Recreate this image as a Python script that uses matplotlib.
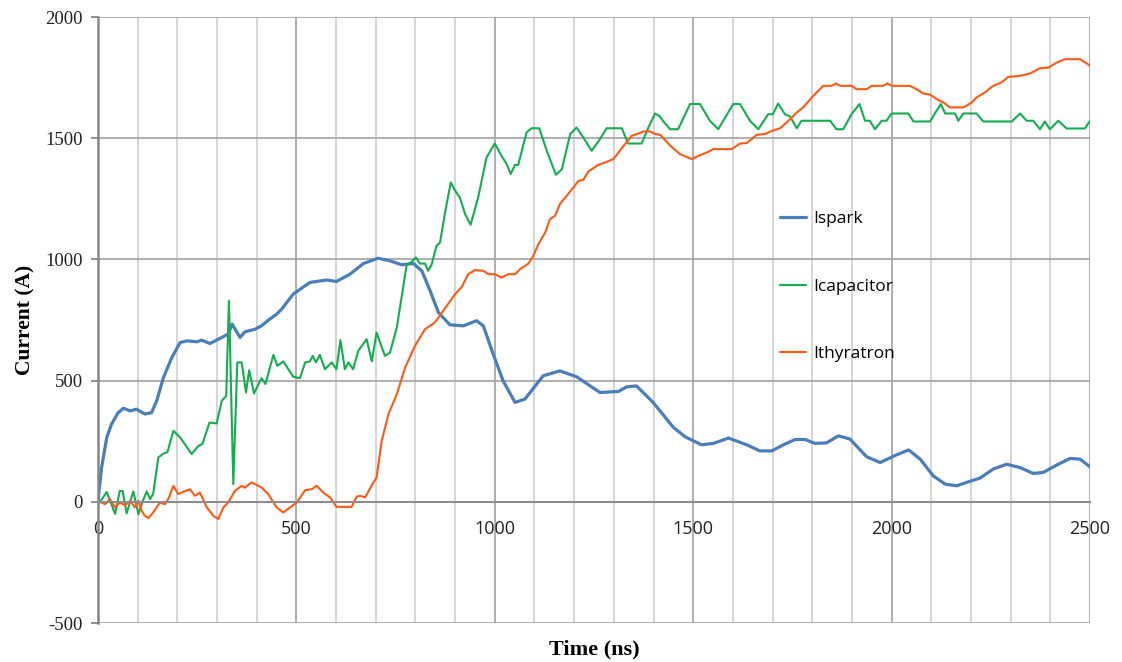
"""Spark gap discharge currents: spark, capacitor and thyratron branches."""

import matplotlib
matplotlib.use("Agg")
import matplotlib.pyplot as plt
from matplotlib.ticker import MultipleLocator

# Ispark trace (time in ns, current in A)
ispark_t = [0, 9, 22, 34, 51, 64, 81, 97, 118, 135,
            148, 165, 186, 207, 224, 250, 261, 282, 312, 328,
            338, 358, 370, 396, 412, 429, 450, 463, 492, 534,
            576, 601, 635, 669, 706, 736, 765, 795, 816, 837,
            858, 887, 921, 954, 971, 996, 1021, 1051, 1076, 1122,
            1164, 1206, 1265, 1311, 1332, 1357, 1399, 1450, 1480, 1500,
            1521, 1551, 1589, 1635, 1668, 1698, 1727, 1757, 1782, 1807,
            1836, 1866, 1895, 1937, 1971, 2013, 2043, 2072, 2105, 2135,
            2164, 2189, 2223, 2256, 2290, 2324, 2357, 2382, 2420, 2450,
            2475, 2500]
ispark = [4, 141, 265, 320, 368, 386, 375, 382, 362, 368,
          417, 513, 595, 657, 664, 660, 667, 653, 678, 692,
          733, 678, 701, 712, 726, 749, 774, 795, 857, 905,
          915, 909, 939, 983, 1005, 994, 978, 983, 953, 870,
          781, 730, 726, 747, 726, 609, 499, 410, 424, 520,
          540, 516, 451, 455, 474, 478, 410, 307, 268, 252,
          235, 241, 263, 235, 210, 210, 235, 257, 257, 241,
          243, 272, 259, 186, 162, 194, 214, 176, 107, 73,
          66, 80, 98, 135, 155, 141, 117, 121, 155, 179,
          176, 144]

# Icapacitor trace
icap_t = [0, 22, 43, 55, 62, 72, 89, 102, 112, 123,
          131, 139, 152, 165, 175, 190, 207, 220, 236, 253,
          263, 281, 299, 312, 323, 330, 341, 351, 362, 373,
          381, 393, 412, 422, 442, 452, 467, 492, 509, 522,
          534, 541, 549, 559, 572, 589, 601, 611, 622, 631,
          643, 656, 677, 690, 702, 723, 736, 753, 769, 778,
          789, 801, 811, 824, 832, 841, 853, 862, 874, 889,
          900, 912, 925, 939, 958, 979, 1000, 1017, 1030, 1040,
          1051, 1059, 1080, 1093, 1112, 1131, 1154, 1169, 1190, 1206,
          1223, 1244, 1265, 1282, 1320, 1336, 1370, 1387, 1404, 1416,
          1425, 1442, 1462, 1492, 1517, 1542, 1563, 1601, 1618, 1643,
          1664, 1689, 1701, 1714, 1731, 1744, 1761, 1773, 1845, 1861,
          1878, 1899, 1919, 1933, 1945, 1958, 1975, 1987, 2000, 2042,
          2055, 2097, 2109, 2124, 2135, 2160, 2168, 2181, 2214, 2231,
          2303, 2324, 2340, 2357, 2374, 2386, 2399, 2420, 2441, 2487,
          2500]
icap = [-12, 40, -50, 45, 45, -48, 43, -51, 0, 43,
        11, 32, 183, 199, 205, 293, 265, 235, 197, 231,
        238, 327, 323, 417, 437, 829, 73, 575, 575, 451,
        543, 447, 510, 486, 606, 561, 579, 516, 510, 575,
        579, 602, 575, 606, 547, 575, 547, 667, 547, 575,
        547, 623, 671, 579, 698, 602, 616, 719, 884, 978,
        988, 1008, 983, 983, 953, 980, 1056, 1070, 1187, 1318,
        1283, 1255, 1187, 1143, 1255, 1420, 1478, 1427, 1393, 1352,
        1390, 1390, 1524, 1541, 1541, 1448, 1349, 1372, 1517, 1544,
        1503, 1448, 1496, 1541, 1541, 1478, 1478, 1544, 1602, 1590,
        1569, 1537, 1537, 1641, 1641, 1572, 1537, 1641, 1641, 1572,
        1537, 1599, 1599, 1643, 1599, 1590, 1541, 1572, 1572, 1537,
        1537, 1599, 1641, 1572, 1572, 1537, 1572, 1572, 1602, 1602,
        1569, 1569, 1602, 1641, 1602, 1602, 1572, 1602, 1602, 1569,
        1569, 1602, 1572, 1572, 1537, 1569, 1537, 1572, 1540, 1540,
        1572]

# Ithyratron trace
ithy_t = [0, 18, 30, 43, 55, 68, 81, 93, 102, 110,
          118, 127, 139, 156, 169, 179, 190, 202, 219, 232,
          244, 257, 274, 291, 303, 316, 328, 345, 362, 370,
          387, 412, 429, 450, 467, 484, 501, 522, 539, 551,
          568, 585, 601, 639, 652, 660, 673, 694, 702, 715,
          732, 753, 774, 799, 824, 849, 870, 900, 917, 933,
          950, 971, 984, 1000, 1017, 1034, 1051, 1064, 1085, 1097,
          1110, 1127, 1139, 1152, 1164, 1181, 1211, 1223, 1236, 1261,
          1278, 1299, 1320, 1345, 1362, 1375, 1391, 1404, 1417, 1442,
          1467, 1496, 1513, 1534, 1551, 1597, 1618, 1635, 1660, 1681,
          1698, 1719, 1740, 1761, 1777, 1799, 1811, 1828, 1849, 1860,
          1870, 1899, 1912, 1937, 1950, 1979, 1989, 2000, 2046, 2063,
          2080, 2097, 2114, 2131, 2147, 2181, 2202, 2214, 2235, 2256,
          2277, 2294, 2324, 2349, 2374, 2395, 2416, 2437, 2475, 2500]
ithy = [4, -10, 11, -23, -3, -15, 4, -23, 4, -37,
        -58, -67, -44, -3, -10, 18, 66, 32, 44, 52,
        25, 38, -23, -58, -71, -23, -3, 45, 66, 58,
        80, 59, 32, -23, -44, -23, -3, 48, 52, 66,
        38, 18, -21, -21, 21, 25, 18, 80, 100, 252,
        362, 444, 554, 644, 712, 740, 788, 857, 887, 939,
        956, 953, 939, 939, 925, 939, 939, 960, 983, 1015,
        1063, 1111, 1166, 1180, 1228, 1262, 1324, 1328, 1363, 1390,
        1400, 1414, 1459, 1510, 1519, 1528, 1528, 1517, 1514, 1469,
        1434, 1414, 1427, 1441, 1455, 1455, 1478, 1480, 1514, 1517,
        1530, 1541, 1572, 1606, 1627, 1668, 1689, 1716, 1716, 1726,
        1716, 1716, 1702, 1702, 1716, 1716, 1726, 1716, 1716, 1702,
        1684, 1680, 1661, 1647, 1627, 1627, 1647, 1668, 1689, 1716,
        1730, 1753, 1757, 1767, 1789, 1791, 1812, 1826, 1826, 1799]

SERIF = "Liberation Serif"
SANS = "Open Sans"


def main() -> None:
    plt.rcParams["axes.unicode_minus"] = False

    fig = plt.figure(figsize=(11.22, 6.62), dpi=100)
    ax = fig.add_axes([98 / 1122, 1 - 623 / 662, 992 / 1122, 606 / 662])

    line_kw = dict(solid_joinstyle="round", solid_capstyle="round")
    ax.plot(ispark_t, ispark, color="#4a7ebb", lw=2.3, label="Ispark", **line_kw)
    ax.plot(icap_t, icap, color="#14ad50", lw=1.5, label="Icapacitor", **line_kw)
    ax.plot(ithy_t, ithy, color="#ff5a14", lw=1.5, label="Ithyratron", **line_kw)

    ax.set_xlim(0, 2500)
    ax.set_ylim(-500, 2000)
    ax.xaxis.set_major_locator(MultipleLocator(500))
    ax.xaxis.set_minor_locator(MultipleLocator(100))
    ax.yaxis.set_major_locator(MultipleLocator(500))
    ax.set_axisbelow(True)
    ax.grid(which="major", color="#a8a8a8", lw=1.3)
    ax.grid(which="minor", axis="x", color="#d2d2d2", lw=1.3)

    for side in ("top", "right"):
        ax.spines[side].set_visible(False)
    ax.spines["left"].set_color("#868686")
    ax.spines["left"].set_linewidth(1.8)
    ax.spines["bottom"].set_position(("data", 0))
    ax.spines["bottom"].set_color("#8c8c8c")
    ax.spines["bottom"].set_linewidth(1.5)

    ax.tick_params(axis="x", which="both", length=0, pad=13, labelsize=13,
                   labelfontfamily=SANS, labelcolor="#222222")
    ax.tick_params(axis="y", length=5, width=1.3, color="#868686", pad=6,
                   labelsize=13.5, labelfontfamily=SERIF, labelcolor="#222222")

    ax.set_xlabel("Time (ns)", fontfamily=SERIF, fontweight="bold", fontsize=16)
    ax.xaxis.set_label_coords(0.5, -0.028)
    ax.set_ylabel("Current (A)", fontfamily=SERIF, fontweight="bold", fontsize=15.5)
    ax.yaxis.set_label_coords(-0.063, 0.5)

    ax.legend(loc="center left", bbox_to_anchor=(0.6875, 0.555), frameon=False,
              borderpad=0, borderaxespad=0, labelspacing=2.95, handlelength=1.5,
              handletextpad=0.4, prop={"family": SANS, "size": 12.5})

    fig.savefig("out.png", dpi=100)


if __name__ == "__main__":
    main()
